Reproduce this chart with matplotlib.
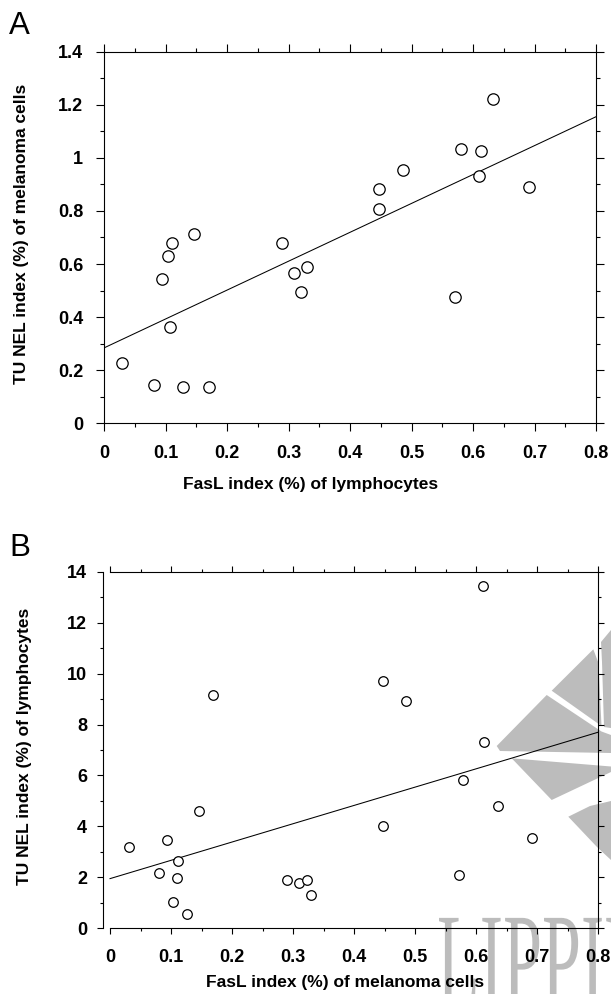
import matplotlib
matplotlib.use("Agg")
import matplotlib.pyplot as plt
from matplotlib.patches import Polygon, PathPatch
from matplotlib.textpath import TextPath
from matplotlib.font_manager import FontProperties
from matplotlib.transforms import Affine2D, IdentityTransform
from matplotlib.ticker import MultipleLocator

# ---------------- data ----------------
# Panel A: FasL index of lymphocytes vs TUNEL index of melanoma cells
a_x = [0.029, 0.082, 0.128, 0.171, 0.095, 0.104, 0.111, 0.108, 0.147, 0.290, 0.309,
       0.330, 0.320, 0.447, 0.447, 0.486, 0.571, 0.581, 0.613, 0.610, 0.632, 0.691]
a_y = [0.227, 0.145, 0.137, 0.137, 0.543, 0.630, 0.679, 0.364, 0.712, 0.679, 0.565,
       0.589, 0.494, 0.882, 0.807, 0.954, 0.477, 1.035, 1.026, 0.932, 1.223, 0.890]
a_fit_x = [0.0, 0.8]
a_fit_y = [0.284, 1.155]

# Panel B: FasL index of melanoma cells vs TUNEL index of lymphocytes
b_x = [0.031, 0.080, 0.094, 0.109, 0.111, 0.103, 0.126, 0.146, 0.169, 0.290, 0.310,
       0.322, 0.330, 0.611, 0.447, 0.485, 0.613, 0.579, 0.635, 0.448, 0.692, 0.571]
b_y = [3.20, 2.17, 3.47, 1.97, 2.64, 1.03, 0.55, 4.62, 9.15, 1.90, 1.78,
       1.90, 1.30, 13.45, 9.72, 8.91, 7.30, 5.82, 4.80, 4.00, 3.53, 2.09]
b_fit_x = [0.0, 0.8]
b_fit_y = [1.95, 7.70]

x_ticks = [0, 0.1, 0.2, 0.3, 0.4, 0.5, 0.6, 0.7, 0.8]
x_ticklabels = ["0", "0.1", "0.2", "0.3", "0.4", "0.5", "0.6", "0.7", "0.8"]
a_yticks = [0, 0.2, 0.4, 0.6, 0.8, 1.0, 1.2, 1.4]
a_yticklabels = ["0", "0.2", "0.4", "0.6", "0.8", "1", "1.2", "1.4"]
b_yticks = [0, 2, 4, 6, 8, 10, 12, 14]
b_yticklabels = ["0", "2", "4", "6", "8", "10", "12", "14"]

a_xlabel = "FasL index (%) of lymphocytes"
a_ylabel = "TU NEL index (%) of melanoma cells"
b_xlabel = "FasL index (%) of melanoma cells"
b_ylabel = "TU NEL index (%) of lymphocytes"

# ---------------- style ----------------
W, H = 611, 994
plt.rcParams['font.family'] = ['Liberation Sans', 'DejaVu Sans']
fig = plt.figure(figsize=(W / 100, H / 100), dpi=100)
fig.patch.set_facecolor('white')

def fx(px):
    return px / W

def fy(py):
    return 1 - py / H

# watermark (publisher logo, light grey) in pixel coordinates
wm_color = '#bcbcbc'
wm_polys = [
    [(551.7, 690.7), (593.3, 649.3), (598.5, 663), (601.5, 726)],
    [(601.0, 642), (611, 630), (611, 728), (604, 727), (602, 662)],
    [(496.7, 746), (546.7, 695), (601.5, 731.5), (611, 735), (611, 753), (500, 751)],
    [(511.7, 758.3), (611, 766.5), (611, 772), (551.7, 800)],
    [(568.3, 816.7), (590, 806), (611, 801), (611, 860), (597, 847)],
]
for poly in wm_polys:
    fig.add_artist(Polygon([(fx(p), fy(q)) for p, q in poly], closed=True,
                           transform=fig.transFigure, facecolor=wm_color,
                           edgecolor='none', zorder=-5))
tp = TextPath((0, 0), "LIPPINCOTT", size=100,
              prop=FontProperties(family='Liberation Serif'))
tr = Affine2D().scale(0.70, 1.30).translate(437, H - 1003)
fig.add_artist(PathPatch(tr.transform_path(tp), transform=IdentityTransform(),
                         facecolor=wm_color, edgecolor='none', zorder=-5))

tick_fs = 13
label_fs = 12.5

def style_axes(ax, minor_x, minor_y, major_len, minor_len, xpad, ypad):
    ax.set_facecolor('none')
    for s in ax.spines.values():
        s.set_linewidth(0.8)
        s.set_color('black')
    ax.xaxis.set_minor_locator(MultipleLocator(minor_x))
    ax.yaxis.set_minor_locator(MultipleLocator(minor_y))
    ax.tick_params(which='both', direction='out', top=True, right=True,
                   labeltop=False, labelright=False, width=0.8, color='black')
    ax.tick_params(which='major', length=major_len)
    ax.tick_params(which='minor', length=minor_len)
    ax.tick_params(axis='x', which='major', pad=xpad, labelsize=tick_fs)
    ax.tick_params(axis='y', which='major', pad=ypad, labelsize=tick_fs)
    for lab in ax.get_xticklabels() + ax.get_yticklabels():
        lab.set_fontweight('bold')

# ---------------- panel A ----------------
axA = fig.add_axes([fx(104), fy(423.3), fx(596) - fx(104), fy(51.7) - fy(423.3)])
axA.plot(a_fit_x, a_fit_y, color='black', lw=0.75, zorder=2)
axA.plot(a_x, a_y, linestyle='none', marker='o', ms=8.2, mew=0.9,
         mfc='white', mec='black', zorder=3)
axA.set_xlim(0, 0.8)
axA.set_ylim(0, 1.4)
axA.set_xticks(x_ticks)
axA.set_xticklabels(x_ticklabels)
axA.set_yticks(a_yticks)
axA.set_yticklabels(a_yticklabels)
style_axes(axA, 0.05, 0.1, 5.6, 3.0, 10.0, 9.5)

fig.text(fx(9), fy(34), "A", fontsize=22.5, ha='left', va='baseline')
fig.text(fx(311), fy(485), a_xlabel, fontsize=label_fs, fontweight='bold',
         ha='center', va='center')
fig.text(fx(21.5), fy(234), a_ylabel, fontsize=label_fs, fontweight='bold',
         ha='center', va='center', rotation=90)

# ---------------- panel B ----------------
axB = fig.add_axes([fx(103.3), fy(928.3), fx(598.3) - fx(103.3), fy(571.7) - fy(928.3)])
axB.plot(b_fit_x, b_fit_y, color='black', lw=0.75, zorder=2)
axB.plot(b_x, b_y, linestyle='none', marker='o', ms=6.9, mew=0.9,
         mfc='white', mec='black', zorder=3)
axB.set_xlim(-0.011, 0.8)
axB.set_ylim(0, 14)
axB.spines['bottom'].set_bounds(0, 0.8)
axB.spines['top'].set_bounds(0, 0.8)
axB.set_xticks(x_ticks)
axB.set_xticklabels(x_ticklabels)
axB.set_yticks(b_yticks)
axB.set_yticklabels(b_yticklabels)
style_axes(axB, 0.05, 1, 4.2, 2.4, 10.8, 7.6)

fig.text(fx(9), fy(556), "B", fontsize=22.5, ha='left', va='baseline')
fig.text(fx(345), fy(983), b_xlabel, fontsize=label_fs, fontweight='bold',
         ha='center', va='center')
fig.text(fx(25), fy(746), b_ylabel, fontsize=label_fs, fontweight='bold',
         ha='center', va='center', rotation=90)

fig.savefig("out.png", dpi=100, facecolor='white')
